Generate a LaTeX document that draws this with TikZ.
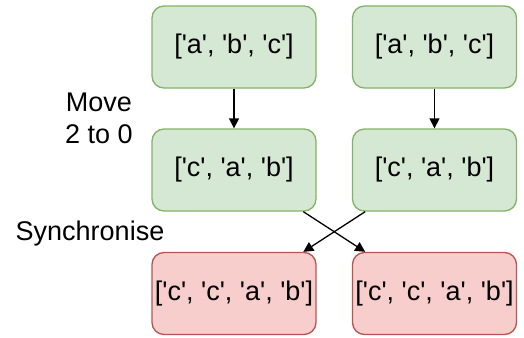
\documentclass[tikz,border=0pt]{standalone}
\usepackage{fontspec}
\setmainfont{Liberation Sans}[Ligatures=TeXOff]
\usetikzlibrary{arrows.meta}
\definecolor{okfill}{HTML}{D5E8D4}
\definecolor{okline}{HTML}{82B366}
\definecolor{badfill}{HTML}{F8CECC}
\definecolor{badline}{HTML}{B85450}
\tikzset{
  listbox/.style={draw, line width=1.3pt, rounded corners=12pt, minimum width=164pt,
    minimum height=82pt, inner sep=0pt, font=\fontsize{27}{31}\selectfont},
  okbox/.style={listbox, fill=okfill, draw=okline},
  badbox/.style={listbox, fill=badfill, draw=badline},
  flow/.style={line width=1.3pt, -{Triangle[length=10pt, width=10pt]}},
  note/.style={align=center, font=\fontsize{27}{32}\selectfont}
}
\begin{document}
\begin{tikzpicture}[x=1pt, y=-1pt]
\useasboundingbox (0,0) rectangle (524,337);
\node[okbox] (s1) at (234,47) {['a', 'b', 'c']};
\node[okbox] (s2) at (434.5,47) {['a', 'b', 'c']};
\node[okbox] (m1) at (234,170) {['c', 'a', 'b']};
\node[okbox] (m2) at (434.5,170) {['c', 'a', 'b']};
\node[badbox] (b1) at (234,293.5) {['c', 'c', 'a', 'b']};
\node[badbox] (b2) at (434.5,293.5) {['c', 'c', 'a', 'b']};
\node[note] (mv) at (99,118) {Move\\2 to 0};
\node[note] (sy) at (90,234) {Synchronise};
\draw[flow] (s1) -- (m1);
\draw[flow] (s2) -- (m2);
\draw[flow] (m1.-31) -- (b2.149);
\draw[flow] (m2.-149) -- (b1.31);
\end{tikzpicture}
\end{document}
